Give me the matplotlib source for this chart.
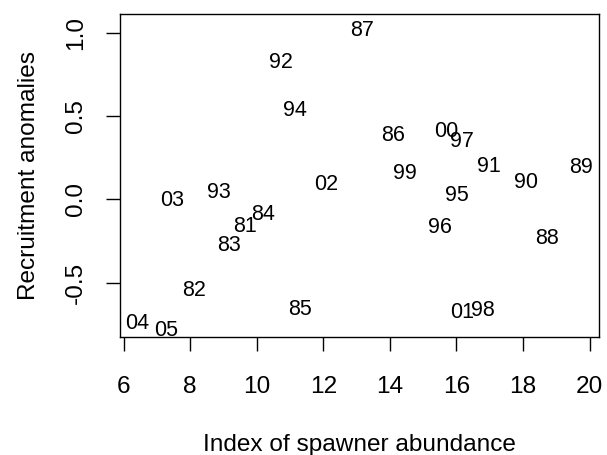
import matplotlib.pyplot as plt

plt.rcParams['font.family'] = ['Liberation Sans', 'DejaVu Sans']

# spawner abundance index, recruitment anomaly, year label
years = ['81', '82', '83', '84', '85', '86', '87', '88', '89', '90', '91', '92', '93',
         '94', '95', '96', '97', '98', '99', '00', '01', '02', '03', '04', '05']
spawners = [9.65, 8.13, 9.18, 10.2, 11.3, 14.1, 13.15, 18.73, 19.74, 18.1, 16.98, 10.73, 8.85,
            11.15, 16.02, 15.5, 16.17, 16.8, 14.45, 15.68, 16.16, 12.08, 7.45, 6.41, 7.27]
recruits = [-0.16, -0.544, -0.278, -0.088, -0.66, 0.386, 1.016, -0.234, 0.192, 0.102, 0.2, 0.822, 0.04,
            0.536, 0.026, -0.168, 0.346, -0.664, 0.156, 0.41, -0.68, 0.092, -0.008, -0.744, -0.784]

fig = plt.figure(figsize=(6.07, 4.55), dpi=100)
ax = fig.add_axes([0.1977, 0.2593, 0.9868 - 0.1977, 0.9692 - 0.2593])

for x, y, s in zip(spawners, recruits, years):
    ax.text(x, y, s, ha='center', va='center', fontsize=15.5)

ax.set_xlim(5.895, 20.28)
ax.set_ylim(-0.826, 1.112)
ax.set_xticks([6, 8, 10, 12, 14, 16, 18, 20])
ax.set_yticks([-0.5, 0.0, 0.5, 1.0])
ax.set_yticklabels(['-0.5', '0.0', '0.5', '1.0'], rotation=90, va='center')

ax.tick_params(direction='out', length=10, width=1, labelsize=17.6, pad=18)
ax.tick_params(axis='y', pad=14)
for sp in ax.spines.values():
    sp.set_linewidth(1)

ax.set_xlabel('Index of spawner abundance', fontsize=17.6, labelpad=26)
ax.set_ylabel('Recruitment anomalies', fontsize=17.6, labelpad=18)

fig.savefig('out.png', dpi=100)
